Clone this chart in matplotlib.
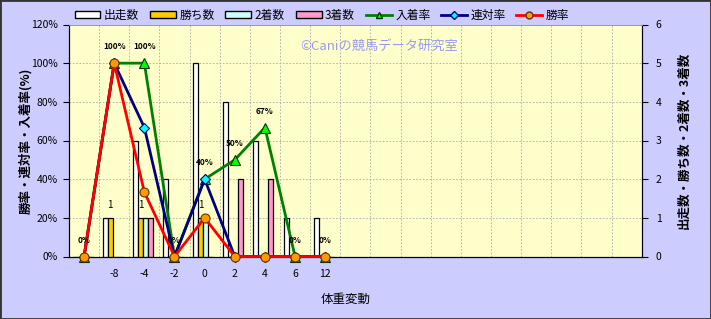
import matplotlib
matplotlib.use('Agg')
import matplotlib.pyplot as plt
from matplotlib.patches import Rectangle, Patch
from matplotlib.lines import Line2D
import numpy as np

plt.rcParams['font.family'] = ['Noto Sans CJK JP', 'DejaVu Sans']

# categories (weight change), 19 slots, most of them empty
cats = ['', '-8', '-4', '-2', '0', '2', '4', '6', '12'] + [''] * 10

# counts (right axis)
starts = [0, 1, 3, 2, 5, 4, 3, 1, 1]
wins = [0, 1, 1, 0, 1, 0, 0, 0, 0]
seconds = [0, 0, 1, 0, 1, 0, 0, 0, 0]
thirds = [0, 0, 1, 0, 0, 2, 2, 0, 0]

# rates in % (left axis)
place_rate = [0, 100, 100, 0, 40, 50, 66.7, 0, 0]
quinella_rate = [0, 100, 66.7, 0, 40, 0, 0, 0, 0]
win_rate = [0, 100, 33.3, 0, 20, 0, 0, 0, 0]
place_labels = ['0%', '100%', '100%', '0%', '40%', '50%', '67%', '0%', '0%']

bg = '#CCCCFF'
fig = plt.figure(figsize=(7.11, 3.19), dpi=100, facecolor=bg)
ax = fig.add_axes([69/711, 1-256.5/319, (641.7-69)/711, (256.5-24.5)/319])
ax.set_facecolor('#FFFFCC')
ax2 = ax.twinx()

# bars on the primary axes, ticks on the right
x = np.arange(len(starts))
w = 5/30.1
sh = -0.05
bar_kw = dict(width=w, edgecolor='black', linewidth=0.9, zorder=3)
ax.bar(x - 1.5*w + sh, starts, color='white', **bar_kw)
ax.bar(x - 0.5*w + sh, wins, color='#FFCC00', **bar_kw)
ax.bar(x + 0.5*w + sh, seconds, color='#CCFFFF', **bar_kw)
ax.bar(x + 1.5*w + sh, thirds, color='#FF99CC', **bar_kw)
for i, v in enumerate(wins):
    if v > 0:
        ax.annotate(str(v), (x[i] - 0.5*w + sh, v), xytext=(0, 6), textcoords='offset points',
                    ha='center', va='bottom', fontsize=7, zorder=4)

ax.set_xlim(-0.5, len(cats) - 0.5)
ax.set_ylim(0, 6)
ax.yaxis.tick_right()
ax.set_yticks(range(7))
ax.tick_params(axis='y', direction='out', length=4, labelsize=7.5, pad=6, colors='black')
ax.yaxis.set_label_position('right')
ax.set_ylabel('出走数・勝ち数・2着数・3着数', fontsize=9, fontweight='bold')
ax.yaxis.set_label_coords(1.062, 0.5)
ax.set_xticks(np.arange(len(cats)))
ax.set_xticklabels(cats, fontsize=7.5)
ax.tick_params(axis='x', length=0, pad=9)
ax.set_xlabel('体重変動', fontsize=9)
ax.xaxis.set_label_coords(0.483, -0.155)

# grid
for gx in np.arange(0.5, len(cats) - 0.5, 1):
    ax.axvline(gx, color='#AAAAAA', lw=0.6, ls=(0, (2, 2)), zorder=1)
for gy in range(1, 6):
    ax.axhline(gy, color='#AAAAAA', lw=0.6, ls=(0, (2, 2)), zorder=1)

# rates on the twin axes, ticks on the left
ax2.yaxis.tick_left()
ax2.set_ylim(0, 120)
ax2.set_yticks(range(0, 121, 20))
ax2.set_yticklabels([f'{v}%' for v in range(0, 121, 20)])
ax2.tick_params(axis='y', direction='out', length=4, labelsize=7.5, pad=4)
ax2.yaxis.set_label_position('left')
ax2.set_ylabel('勝率・連対率・入着率(%)', fontsize=9, fontweight='bold')
ax2.yaxis.set_label_coords(-0.065, 0.5)

xl = x[:len(place_rate)]
ax2.plot(xl, place_rate, color='#008000', lw=2, marker='^', ms=7.5,
         mfc='#00FF00', mec='#003300', mew=0.8, clip_on=False, zorder=5)
ax2.plot(xl, quinella_rate, color='#000080', lw=2, marker='D', ms=5,
         mfc='#00FFFF', mec='#000080', mew=0.8, clip_on=False, zorder=6)
ax2.plot(xl, win_rate, color='#FF0000', lw=2, marker='o', ms=6.5,
         mfc='#FF9900', mec='#663300', mew=0.8, clip_on=False, zorder=7)
for i, t in enumerate(place_labels):
    ax2.annotate(t, (xl[i], place_rate[i]), xytext=(0, 8.5), textcoords='offset points',
                 ha='center', va='bottom', fontsize=6, fontweight='bold', zorder=8)

for a in (ax, ax2):
    for s in ('left', 'right', 'bottom'):
        a.spines[s].set_color('black')
    a.spines['top'].set_color('#999999')
    a.spines['top'].set_linewidth(0.6)

# watermark
ax2.text(0.403, 0.905, '©Caniの競馬データ研究室', transform=ax2.transAxes,
         fontsize=9.5, color='#9A9AF0', ha='left', va='center')

# legend
handles = [
    Patch(facecolor='white', edgecolor='black', label='出走数'),
    Patch(facecolor='#FFCC00', edgecolor='black', label='勝ち数'),
    Patch(facecolor='#CCFFFF', edgecolor='black', label='2着数'),
    Patch(facecolor='#FF99CC', edgecolor='black', label='3着数'),
    Line2D([], [], color='#008000', lw=2, marker='^', ms=5, mfc='#00FF00', mec='#003300', label='入着率'),
    Line2D([], [], color='#000080', lw=2, marker='D', ms=4, mfc='#00FFFF', mec='#000080', label='連対率'),
    Line2D([], [], color='#FF0000', lw=2, marker='o', ms=5, mfc='#FF9900', mec='#663300', label='勝率'),
]
fig.legend(handles=handles, loc='center', bbox_to_anchor=(322/711, 1-15/319), ncol=7,
           frameon=False, fontsize=8.5, handlelength=2.2, handleheight=0.5,
           handletextpad=0.3, columnspacing=0.9)

# figure border
fig.patches.append(Rectangle((0, 0), 1, 1, transform=fig.transFigure, fill=False,
                             edgecolor='#333333', lw=2))

fig.savefig('out.png', dpi=100, facecolor=bg)
